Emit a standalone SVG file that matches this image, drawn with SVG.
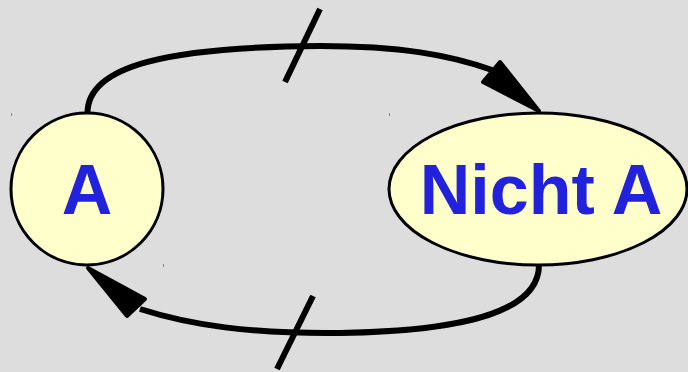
<svg xmlns="http://www.w3.org/2000/svg" width="688" height="372" viewBox="0 0 688 372">
<style>
.node{fill:#ffffcc;stroke:#000;stroke-width:3}
.lbl{font-family:"Liberation Sans",Arial,sans-serif;font-weight:bold;font-size:70px;fill:#2222dd;text-anchor:middle}
.edge{fill:none;stroke:#000;stroke-width:6}
.head{fill:#000;stroke:#000;stroke-width:4;stroke-linejoin:round}
.tick{stroke:#000;stroke-width:6}
.dot{fill:#888}
</style>
<rect width="688" height="372" fill="#dddddd"/>
<g id="connectors">
<path class="edge" d="M87.5,113 C87.5,65 170,47 320,46 C400,46 450,55 492,70"/>
<polygon class="head" points="539,111 500,62 483,82"/>
<line class="tick" x1="320" y1="9" x2="285" y2="82"/>
<path class="edge" d="M539,265 C539,310 470,331 340,333 C250,334 190,325 140,309"/>
<polygon class="head" points="88,268 145,299 127,316"/>
<line class="tick" x1="313" y1="296" x2="277" y2="369"/>
</g>
<g id="node-a">
<circle class="node" cx="87" cy="189" r="76"/>
<text class="lbl" x="87" y="214">A</text>
</g>
<g id="node-nicht-a">
<ellipse class="node" cx="538" cy="189" rx="149" ry="76"/>
<text class="lbl" x="541" y="214">Nicht A</text>
</g>
<rect class="dot" x="11" y="113" width="1" height="3"/>
<rect class="dot" x="389" y="113" width="1" height="3"/>
<rect class="dot" x="163" y="264" width="1" height="3"/>
</svg>
